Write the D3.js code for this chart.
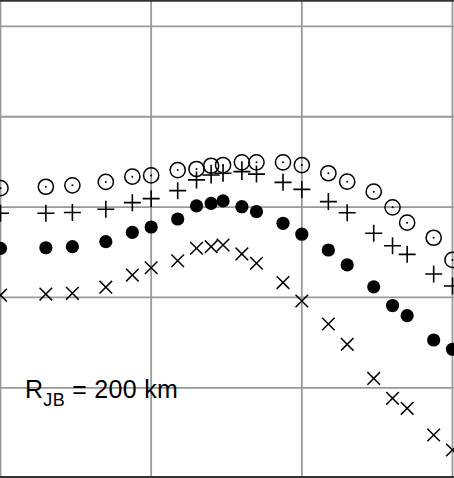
<!DOCTYPE html>
<html>
<head>
<meta charset="utf-8">
<script src="https://cdn.jsdelivr.net/npm/d3@7"></script>
<style>
  html, body { margin: 0; padding: 0; background: #fff; }
  svg { display: block; }
</style>
</head>
<body>
<svg id="chart" width="454" height="478"></svg>
<script>
// Periods (s)
const periods = [0.01, 0.02, 0.03, 0.05, 0.075, 0.1, 0.15, 0.2, 0.25, 0.3, 0.4, 0.5, 0.75, 1, 1.5, 2, 3, 4, 5, 7.5, 10];

// Spectral values (g) for four series
const seriesCircleDot = [0.0162, 0.0168, 0.0174, 0.0190, 0.0217, 0.0224, 0.0257, 0.0264, 0.0287, 0.0292, 0.0313, 0.0313, 0.0313, 0.0292, 0.0237, 0.0191, 0.0148, 0.00995, 0.00672, 0.00458, 0.0026];
const seriesPlus = [0.00854, 0.00854, 0.00872, 0.00946, 0.0112, 0.0124, 0.0152, 0.0200, 0.0227, 0.0237, 0.0247, 0.0232, 0.0188, 0.0157, 0.0115, 0.00867, 0.00513, 0.00374, 0.0030, 0.00182, 0.00134];
const seriesDot = [0.0035, 0.00355, 0.00365, 0.00414, 0.00526, 0.00602, 0.00738, 0.0103, 0.0110, 0.0117, 0.0101, 0.0089, 0.00662, 0.00501, 0.00335, 0.00229, 0.00131, 0.000814, 0.000628, 0.000338, 0.000267];
const seriesCross = [0.00106, 0.00109, 0.00111, 0.00130, 0.00177, 0.00213, 0.00255, 0.0035, 0.00365, 0.00381, 0.00303, 0.00239, 0.00146, 0.000913, 0.000508, 0.000303, 0.000127, 0.0000765, 0.0000593, 0.00003, 0.0000205];

const xGridValues = [0.01, 0.1, 1, 10];
const yGridValues = [1, 0.1, 0.01, 0.001, 0.0001];
const labelMain = "R";
const labelSub = "JB";
const labelRest = " = 200 km";

const svg = d3.select("#chart");
const W = 454, H = 478;

const x = d3.scaleLog().domain([0.01, 10]).range([0.5, 452.5]);
const y = d3.scaleLog().domain([0.0001, 1]).range([387.8, 26.4]);

// grid
const grid = svg.append("g");
grid.selectAll("line.v").data(xGridValues).join("line")
  .attr("x1", d => x(d)).attr("x2", d => x(d))
  .attr("y1", 0).attr("y2", H)
  .attr("stroke", "#999").attr("stroke-width", 1.8);
grid.selectAll("line.h").data(yGridValues).join("line")
  .attr("x1", 0).attr("x2", W)
  .attr("y1", d => y(d)).attr("y2", d => y(d))
  .attr("stroke", "#999").attr("stroke-width", 1.8);

// frame top/bottom
svg.append("line").attr("x1", 0).attr("x2", W).attr("y1", 0.8).attr("y2", 0.8)
  .attr("stroke", "#333").attr("stroke-width", 2);
svg.append("line").attr("x1", 0).attr("x2", W).attr("y1", 477).attr("y2", 477)
  .attr("stroke", "#333").attr("stroke-width", 2);

const pts = arr => arr.map((v, i) => ({ t: periods[i], v }));

// circle with dot
const gC = svg.append("g");
gC.selectAll("circle.o").data(pts(seriesCircleDot)).join("circle")
  .attr("cx", d => x(d.t)).attr("cy", d => y(d.v)).attr("r", 7.6)
  .attr("fill", "none").attr("stroke", "#000").attr("stroke-width", 1.5);
gC.selectAll("circle.c").data(pts(seriesCircleDot)).join("circle")
  .attr("cx", d => x(d.t)).attr("cy", d => y(d.v)).attr("r", 1)
  .attr("fill", "#000");

// plus
const gP = svg.append("g");
gP.selectAll("path").data(pts(seriesPlus)).join("path")
  .attr("transform", d => `translate(${x(d.t)},${y(d.v)})`)
  .attr("d", `M-8.5,0H8.5M0,-8.5V8.5`)
  .attr("stroke", "#000").attr("stroke-width", 1.6).attr("fill", "none");

// filled dot
const gD = svg.append("g");
gD.selectAll("circle").data(pts(seriesDot)).join("circle")
  .attr("cx", d => x(d.t)).attr("cy", d => y(d.v)).attr("r", 6.6)
  .attr("fill", "#000");

// cross
const gX = svg.append("g");
gX.selectAll("path").data(pts(seriesCross)).join("path")
  .attr("transform", d => `translate(${x(d.t)},${y(d.v)})`)
  .attr("d", `M-6.3,-6.3L6.3,6.3M-6.3,6.3L6.3,-6.3`)
  .attr("stroke", "#000").attr("stroke-width", 1.5).attr("fill", "none");

// label
const txt = svg.append("text")
  .attr("x", 25).attr("y", 398)
  .attr("font-family", "'Liberation Sans', Arial, Helvetica, sans-serif")
  .attr("font-size", 25).attr("letter-spacing", 0.3).attr("fill", "#000");
txt.append("tspan").text(labelMain);
txt.append("tspan").attr("font-size", 18).attr("dy", 7.5).text(labelSub);
txt.append("tspan").attr("dy", -7.5).text(labelRest);
</script>
</body>
</html>
